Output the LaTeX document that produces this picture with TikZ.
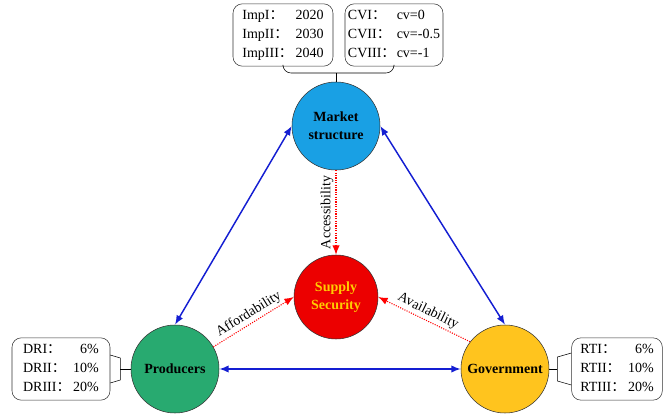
\documentclass[tikz,border=0pt]{standalone}
\usepackage{fontspec}
\setmainfont{Liberation Serif}
\newfontfamily\cjk{Noto Sans CJK SC}
\newcommand{\wcolon}{{\cjk ：}}
\usetikzlibrary{arrows.meta}
\definecolor{mktblue}{RGB}{25,160,228}
\definecolor{secred}{RGB}{236,0,0}
\definecolor{secgold}{RGB}{255,205,0}
\definecolor{prodgreen}{RGB}{40,170,112}
\definecolor{govgold}{RGB}{255,196,30}
\definecolor{linkblue}{RGB}{20,30,210}

\begin{document}
\begin{tikzpicture}[x=0.75pt, y=-0.75pt, >={Latex[length=7pt,width=5.5pt]},
  hub/.style = {draw=black!80, circle, minimum size=66pt, inner sep=0pt, align=center, font=\fontsize{10.5}{13.5}\selectfont\bfseries},
  info/.style = {draw=black!80, rounded corners=7pt, inner sep=2pt, font=\fontsize{10.5}{14.25}\selectfont},
  link/.style = {<->, draw=linkblue, line width=1.1pt},
  flow/.style = {->, red, densely dotted, line width=0.8pt},
  tag/.style = {text=black, font=\fontsize{10.5}{12}\selectfont, inner sep=1.5pt}]
\useasboundingbox (0,0) rectangle (665,414);
\node[hub, fill=mktblue] (mkt) at (336,126) {Market\\structure};
\node[hub, fill=secred, text=secgold, minimum size=63pt] (sec) at (336,297) {Supply\\Security};
\node[hub, fill=prodgreen] (prod) at (175,369) {Producers};
\node[hub, fill=govgold] (gov) at (505,369) {Government};
\node[info, minimum width=75pt, minimum height=41pt] (imp) at (283,35) {\begin{tabular}{@{}l@{\hspace{2pt}}r@{}}ImpI\wcolon & 2020\\ ImpII\wcolon & 2030\\ ImpIII\wcolon & 2040\end{tabular}};
\node[info, minimum width=73.5pt, minimum height=41pt] (cv) at (394,35) {\begin{tabular}{@{}l@{\hspace{1pt}}l@{}}CVI\wcolon & cv=0\\ CVII\wcolon & cv=-0.5\\ CVIII\wcolon & cv=-1\end{tabular}};
\node[info, minimum width=73.5pt, minimum height=40pt] (dr) at (61,369) {\begin{tabular}{@{}l@{\hspace{2pt}}r@{}}DRI\wcolon & 6\%\\ DRII\wcolon & 10\%\\ DRIII\wcolon & 20\%\end{tabular}};
\node[info, minimum width=68pt, minimum height=41pt] (rt) at (617,369) {\begin{tabular}{@{}l@{\hspace{2pt}}r@{}}RTI\wcolon & 6\%\\ RTII\wcolon & 10\%\\ RTIII\wcolon & 20\%\end{tabular}};
\coordinate (topjoin) at (336,73);
\draw[rounded corners=6pt] (imp.south) |- (topjoin) -| (cv.south);
\draw (topjoin) -- (mkt.north);
\draw ([shift={(0,-14)}]dr.east) -- ++(10,3) -- ++(0,22) -- ++(-10,3);
\draw ([shift={(10,0)}]dr.east) -- (prod.west);
\draw ([shift={(0,-16)}]rt.west) -- ++(-14,4) -- ++(0,24) -- ++(14,4);
\draw ([shift={(-14,0)}]rt.west) -- (gov.east);
\draw[link] (mkt.west) -- (prod.north);
\draw[link] (mkt.east) -- (gov.north);
\draw[link] (prod.east) -- (gov.west);
\draw[flow] (mkt.south) -- node[tag, rotate=90, anchor=south, midway] {Accessibility} (sec.north);
\draw[flow] (prod.30) -- node[tag, sloped, above] {Affordability} (sec.west);
\draw[flow] (gov.142) -- node[tag, sloped, above] {Availability} (sec.east);
\end{tikzpicture}
\end{document}
